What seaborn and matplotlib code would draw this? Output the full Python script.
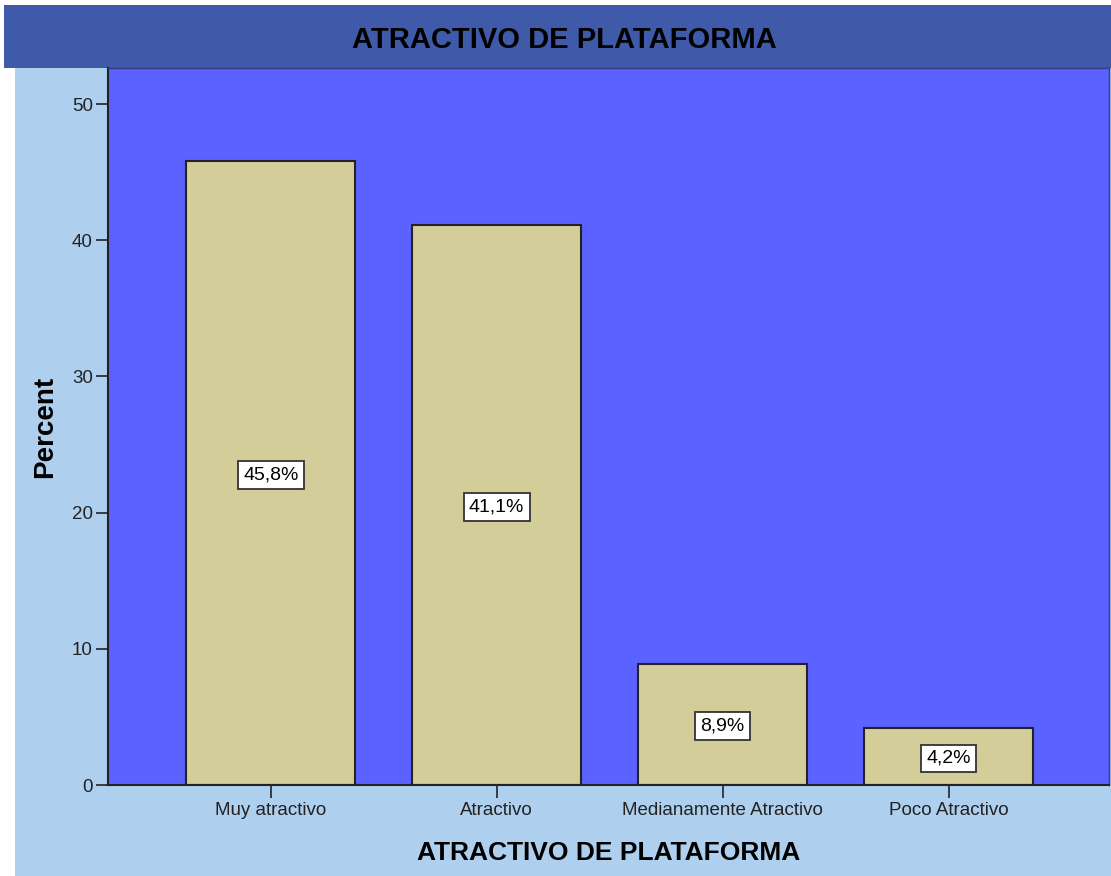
import matplotlib
matplotlib.use("Agg")
import matplotlib.pyplot as plt
from matplotlib.patches import Rectangle
import seaborn as sns
import pandas as pd

categories = ["Muy atractivo", "Atractivo", "Medianamente Atractivo", "Poco Atractivo"]
percents = [45.8, 41.1, 8.9, 4.2]
labels = ["45,8%", "41,1%", "8,9%", "4,2%"]
yticks = [0, 10, 20, 30, 40, 50]
title = "ATRACTIVO DE PLATAFORMA"

sns.set_theme(style="white")
plt.rcParams['font.family'] = ['Liberation Sans', 'DejaVu Sans']

W, H = 1111, 876
fig = plt.figure(figsize=(W/100, H/100), dpi=100)
fig.patch.set_facecolor("white")
# outer light blue background
fig.patches.append(Rectangle((15/W, 0), 1 - 15/W, 1 - 68/H, transform=fig.transFigure,
                             facecolor="#AED0EE", edgecolor="none", zorder=-10))
# title bar
fig.patches.append(Rectangle((4/W, 1 - 68/H), 1 - 4/W, 63/H, transform=fig.transFigure,
                             facecolor="#3E5AA9", edgecolor="none", zorder=-10))
fig.text(564/W, 1 - 40/H, title, ha="center", va="center", fontsize=21,
         fontweight="bold", color="black")

ax = fig.add_axes([108/W, (H-785)/H, (1109-108)/W, (785-68)/H])
ax.set_zorder(1)
df = pd.DataFrame({"cat": categories, "pct": percents})
sns.barplot(data=df, x="cat", y="pct", ax=ax, color="#D3CE99", edgecolor="#222222",
            linewidth=1.5, width=0.75, saturation=1)
ax.set_facecolor("#5B62FF")
ax.set_ylim(0, 52.65)
ax.set_xlim(-0.72, 3.71)
ax.set_yticks(yticks)
ax.set_yticklabels([str(t) for t in yticks], fontsize=13.5, color="#222222")
ax.tick_params(axis="both", direction="out", length=9, width=1.2, color="#222222",
               left=True, bottom=True)
ax.tick_params(axis="y", pad=2)
ax.tick_params(axis="x", labelsize=13.5, labelcolor="#222222", pad=3)
for s in ["left", "bottom"]:
    ax.spines[s].set_color("#222222")
    ax.spines[s].set_linewidth(1.5)
for s in ["top", "right"]:
    ax.spines[s].set_color("#3a3a8a")
    ax.spines[s].set_linewidth(1.0)

for i, (v, lab) in enumerate(zip(percents, labels)):
    ax.text(i, v/2 - 0.15, lab, ha="center", va="center", fontsize=14, color="black",
            bbox=dict(boxstyle="square,pad=0.28", facecolor="white", edgecolor="#333333",
                      linewidth=1.3))

ax.set_xlabel(title, fontsize=19, fontweight="bold", labelpad=16, color="black")
ax.set_ylabel("Percent", fontsize=20, fontweight="bold", labelpad=10, color="black")

fig.savefig("out.png", dpi=100)
